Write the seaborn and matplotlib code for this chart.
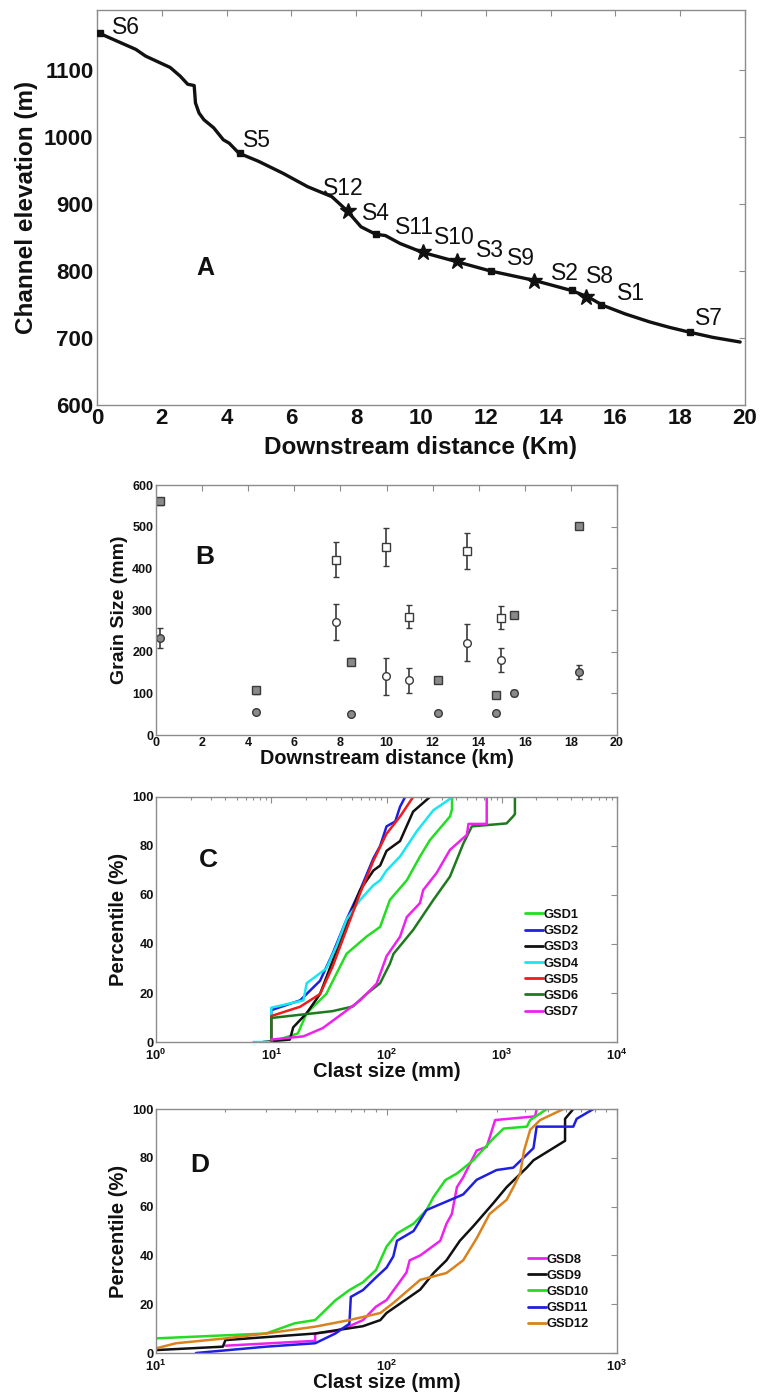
import math
import matplotlib
matplotlib.use("Agg")
import matplotlib.pyplot as plt
from matplotlib.ticker import FixedLocator, LogLocator, NullFormatter
import seaborn as sns
import pandas as pd

sns.set_theme(style="white")
plt.rcParams["font.family"] = ["Liberation Sans", "DejaVu Sans"]
plt.rcParams["mathtext.fontset"] = "custom"
plt.rcParams["mathtext.bf"] = "Liberation Sans:bold"
plt.rcParams["mathtext.rm"] = "Liberation Sans"

FRAME = "#8c8c8c"

# ---- panel A: long profile --------------------------------------------------
PROFILE_KM = [0.08, 0.45, 1.2, 1.5, 2.26, 2.57, 2.8, 3.0, 3.04, 3.15, 3.3, 3.6,
              3.9, 4.08, 4.38, 4.98, 5.74, 6.5, 7.25, 7.7, 8.15, 8.6, 8.9, 9.36,
              10.04, 11.1, 12.15, 13.5, 14.64, 15.17, 15.6, 16.3, 17.06, 17.66,
              18.26, 19.0, 19.85]
PROFILE_ELEV = [1155, 1147, 1131, 1121, 1104, 1091, 1079, 1077, 1051, 1036, 1026,
                1014, 996, 991, 976, 964, 946, 926, 911, 891, 866, 855, 853, 841,
                828, 814, 800, 786, 771, 761, 749, 736, 724, 716, 709, 701, 694]

STATIONS = ["S6", "S5", "S12", "S4", "S11", "S10", "S3", "S9", "S2", "S8", "S1", "S7"]
STATION_KM = [0.08, 4.4, 7.75, 8.6, 10.05, 11.1, 12.15, 13.5, 14.65, 15.1, 15.55, 18.3]
STATION_ELEV = [1155, 976, 889, 855, 828, 815, 800, 785, 771, 761, 749, 709]
STATION_KIND = ["square", "square", "star", "square", "star", "star", "square",
                "star", "square", "star", "square", "square"]
# label offsets in pixels from the station marker
LABEL_OFFSET = [(12, 6), (3, 13), (-25, 23), (-14, 21), (-28, 25), (-23, 23),
                (-15, 21), (-27, 23), (-21, 17), (0, 21), (16, 12), (5, 13)]

# ---- panel B: grain size vs distance ----------------------------------------
B_KM = [0.19, 4.34, 7.79, 8.45, 9.98, 10.98, 12.23, 13.48, 14.76, 14.97, 15.54, 18.34]
B_FILLED = [True, True, False, True, False, False, True, False, True, False, True, True]
D84 = [561, 107, 421, 176, 452, 284, 132, 442, 96, 282, 287, 501]
D84_ERR = [8, 8, 42, 8, 45, 28, 7, 44, 7, 28, 7, 6]
D50 = [232, 56, 271, 51, 141, 131, 53, 222, 52, 180, 101, 151]
D50_ERR = [24, 5, 43, 4, 45, 29, 4, 44, 4, 29, 8, 16]

# ---- panel C: grain size distributions GSD1-7 -------------------------------
C_NAMES = ["GSD1", "GSD2", "GSD3", "GSD4", "GSD5", "GSD6", "GSD7"]
C_COLORS = ["#22dd22", "#1f1fe0", "#111111", "#19e6f0", "#ee1c1c", "#1e7a1e", "#ee22ee"]
C_SIZE = {
    "GSD1": [10, 17, 20.3, 30, 36.7, 45, 67, 88, 107, 150, 195, 238, 355, 370, 370],
    "GSD2": [10, 10, 17.8, 26.5, 34, 45, 59, 77, 88, 100, 119, 131, 145],
    "GSD3": [8.5, 14.5, 15.5, 20.3, 26.5, 34, 45, 59, 77, 88, 100, 131, 170, 238],
    "GSD4": [7, 10, 10, 19, 20.3, 30, 36.7, 45, 59, 77, 88, 100, 131, 183, 255, 350, 370],
    "GSD5": [10, 10, 17.8, 26.5, 34, 45, 59, 77, 100, 131, 170],
    "GSD6": [10, 10, 34, 51, 67, 88, 107, 115, 170, 255, 355, 464, 550, 1100, 1250, 1300,
             1300],
    "GSD7": [10, 19, 28, 42, 59, 82, 100, 131, 150, 195, 208, 272, 355, 497, 514, 740, 740],
}
C_PCT = {
    "GSD1": [0, 3.5, 11.8, 19.6, 27.8, 36, 43, 47, 58, 66, 75.7, 82.4, 92, 95, 100],
    "GSD2": [0, 13, 17, 25, 36, 50, 62, 75, 80, 88, 90, 96, 100],
    "GSD3": [0, 1, 6, 11.8, 19.6, 33, 48, 62, 70, 72, 78, 82, 94, 100],
    "GSD4": [0, 0, 14, 17, 24, 30, 39, 50, 58, 64, 66, 70, 75.7, 86, 94.6, 99, 100],
    "GSD5": [0, 10.6, 14.4, 19.6, 30.7, 46, 60.7, 74, 85, 92, 100],
    "GSD6": [0, 9.8, 12.6, 14.5, 19.6, 24, 32, 36, 45.7, 58, 67.5, 81, 88, 89.2, 92, 93,
             100],
    "GSD7": [1, 2.3, 5.7, 11.8, 17, 23.8, 35, 43, 51, 56.7, 62, 69, 78.4, 84.5, 89, 89, 100],
}

# ---- panel D: grain size distributions GSD8-12 ------------------------------
D_NAMES = ["GSD8", "GSD9", "GSD10", "GSD11", "GSD12"]
D_COLORS = ["#ee22ee", "#111111", "#22dd22", "#1f1fe0", "#d9821e"]
D_SIZE = {
    "GSD8": [20, 49, 49, 60, 69, 79, 90, 100, 122, 126, 140, 171, 182, 192, 202, 215, 246,
             272, 296, 441, 448],
    "GSD9": [10, 19.5, 20, 49, 79, 94, 100, 140, 160, 182, 208, 238, 291, 332, 406, 434,
             595, 595, 646],
    "GSD10": [10, 30, 40, 49, 60, 69, 79, 90, 100, 111, 131, 149, 160, 180, 202, 238,
              291, 322, 406, 420, 496],
    "GSD11": [14.9, 30, 49, 60, 69, 70, 79, 90, 100, 107, 111, 131, 149, 215, 246, 300,
              355, 434, 448, 646, 668, 789],
    "GSD12": [10, 12.2, 20, 30, 49, 69, 94, 107, 140, 182, 215, 246, 280, 332, 355, 380,
              395, 420, 464, 585],
}
D_PCT = {
    "GSD8": [3, 5, 8, 9, 11, 13.5, 19, 21.7, 33, 38, 40, 46, 53, 57, 68, 72, 83, 84.5,
             95.5, 97, 100],
    "GSD9": [1.2, 2.6, 5.3, 8, 11, 13.5, 16.4, 26, 32.8, 38, 46, 52, 61.5, 68, 76, 79, 87,
             96, 100],
    "GSD10": [6, 8, 12.2, 13.5, 21.6, 25.8, 29, 34, 43.6, 49, 53, 58.6, 64, 70.9, 73.6, 79,
              88, 92, 92.8, 95.5, 100],
    "GSD11": [0, 2.6, 4, 8, 12, 23, 25.8, 31, 35, 39.6, 46, 50, 58.6, 65, 71, 75, 76, 84,
              92.8, 92.8, 96, 100],
    "GSD12": [1.9, 4, 6, 8, 10.8, 13.5, 16.4, 20.5, 30, 32.8, 38, 47, 57, 62.8, 68, 73.6,
              83, 91.5, 95.5, 100],
}


def style_axes(ax, size, xpad, ypad):
    for s in ax.spines.values():
        s.set_color(FRAME)
        s.set_linewidth(1.0)
    ax.tick_params(which="both", direction="in", top=True, right=True,
                   color=FRAME, width=0.8, labelsize=size, labelcolor="#111111")
    ax.tick_params(which="major", length=4)
    ax.tick_params(which="minor", length=2.5)
    ax.tick_params(axis="x", pad=xpad)
    ax.tick_params(axis="y", pad=ypad)
    for lbl in ax.get_xticklabels() + ax.get_yticklabels():
        lbl.set_fontweight("bold")


def gsd_frame(names, sizes, pcts):
    rows = []
    for n in names:
        for s, p in zip(sizes[n], pcts[n]):
            rows.append((n, s, p))
    return pd.DataFrame(rows, columns=["gsd", "size", "pct"])


fig = plt.figure(figsize=(7.63, 13.94), dpi=100)
axA = fig.add_axes([0.1271, 0.7095, 0.8493, 0.2834])
axB = fig.add_axes([0.2045, 0.4727, 0.6042, 0.1793])
axC = fig.add_axes([0.2045, 0.2525, 0.6042, 0.1758])
axD = fig.add_axes([0.2045, 0.0294, 0.6042, 0.1750])

# ---- A ----
sns.lineplot(x=PROFILE_KM, y=PROFILE_ELEV, ax=axA, color="#111111", linewidth=2.4,
             estimator=None, sort=False)
for name, km, el, kind, off in zip(STATIONS, STATION_KM, STATION_ELEV, STATION_KIND,
                                   LABEL_OFFSET):
    if kind == "square":
        axA.plot(km, el, marker="s", ms=4.5, color="#111111", zorder=3)
    else:
        axA.plot(km, el, marker="*", ms=12, color="#111111", zorder=3)
    axA.annotate(name, (km, el), xytext=off, textcoords="offset pixels",
                 ha="left", va="center", fontsize=16.5, color="#111111")
axA.set_xlim(0, 20)
axA.set_ylim(600, 1190)
axA.set_xticks(range(0, 21, 2))
axA.set_yticks(range(600, 1101, 100))
style_axes(axA, 16, 2.5, 2.5)
axA.set_xlabel("Downstream distance (Km)", fontsize=17.5, fontweight="bold", color="#111111")
axA.set_ylabel("Channel elevation (m)", fontsize=17.5, fontweight="bold", color="#111111")
axA.xaxis.set_label_coords(0.5, -0.079)
axA.yaxis.set_label_coords(-0.091, 0.5)
axA.text(0.167, 0.347, "A", transform=axA.transAxes, fontsize=18, fontweight="bold",
         ha="center", va="center", color="#111111")

# ---- B ----
for km, filled, v84, e84, v50, e50 in zip(B_KM, B_FILLED, D84, D84_ERR, D50, D50_ERR):
    face = "#8a8a8a" if filled else "white"
    axB.errorbar(km, v84, yerr=e84, fmt="s", ms=5.5, mfc=face, mec="#3a3a3a", mew=1.0,
                 ecolor="#3a3a3a", elinewidth=1.2, capsize=2.5, capthick=1.2)
    axB.errorbar(km, v50, yerr=e50, fmt="o", ms=5.5, mfc=face, mec="#3a3a3a", mew=1.0,
                 ecolor="#3a3a3a", elinewidth=1.2, capsize=2.5, capthick=1.2)
axB.set_xlim(0, 20)
axB.set_ylim(0, 600)
axB.set_xticks(range(0, 21, 2))
axB.set_yticks(range(0, 601, 100))
style_axes(axB, 9, 1.5, 2)
axB.set_xlabel("Downstream distance (km)", fontsize=14.3, fontweight="bold", color="#111111")
axB.set_ylabel("Grain Size (mm)", fontsize=14, fontweight="bold", color="#111111")
axB.xaxis.set_label_coords(0.5, -0.054)
axB.yaxis.set_label_coords(-0.061, 0.5)
axB.text(0.106, 0.712, "B", transform=axB.transAxes, fontsize=19, fontweight="bold",
         ha="center", va="center", color="#111111")


def gsd_panel(ax, names, colors, sizes, pcts, xlim, label, label_pos, leg_pos):
    df = gsd_frame(names, sizes, pcts)
    sns.lineplot(data=df, x="size", y="pct", hue="gsd", hue_order=names,
                 palette=colors, ax=ax, estimator=None, sort=False, linewidth=1.8)
    ax.set_xscale("log")
    ax.set_xlim(*xlim)
    ax.set_ylim(0, 100)
    ax.set_yticks(range(0, 101, 20))
    exps = range(int(round(math.log10(xlim[0]))), int(round(math.log10(xlim[1]))) + 1)
    ax.xaxis.set_major_locator(FixedLocator([10.0 ** e for e in exps]))
    ax.set_xticklabels([r"$\mathbf{10^{%d}}$" % e for e in exps])
    ax.xaxis.set_minor_locator(LogLocator(base=10, subs=range(2, 10)))
    ax.xaxis.set_minor_formatter(NullFormatter())
    style_axes(ax, 9.3, 4.5, 1.5)
    ax.set_xlabel("Clast size (mm)", fontsize=14.5, fontweight="bold", color="#111111")
    ax.set_ylabel("Percentile (%)", fontsize=14.5, fontweight="bold", color="#111111")
    ax.xaxis.set_label_coords(0.5, -0.08)
    ax.yaxis.set_label_coords(-0.061, 0.5)
    ax.text(*label_pos, label, transform=ax.transAxes, fontsize=19, fontweight="bold",
            ha="center", va="center", color="#111111")
    handles, labels = ax.get_legend_handles_labels()
    leg = ax.legend(handles, labels, loc="upper left", bbox_to_anchor=leg_pos,
                    frameon=False, borderpad=0, borderaxespad=0, handlelength=1.4,
                    handletextpad=0.05, labelspacing=0.32,
                    prop={"size": 9.3, "weight": "bold"})
    for t in leg.get_texts():
        t.set_color("#111111")
    for h in leg.get_lines():
        h.set_linewidth(2)


gsd_panel(axC, C_NAMES, C_COLORS, C_SIZE, C_PCT, (1, 1e4), "C", (0.113, 0.743),
          (0.80, 0.543))
gsd_panel(axD, D_NAMES, D_COLORS, D_SIZE, D_PCT, (10, 1e3), "D", (0.095, 0.77),
          (0.807, 0.408))

fig.savefig("out.png", dpi=100, facecolor="white")
